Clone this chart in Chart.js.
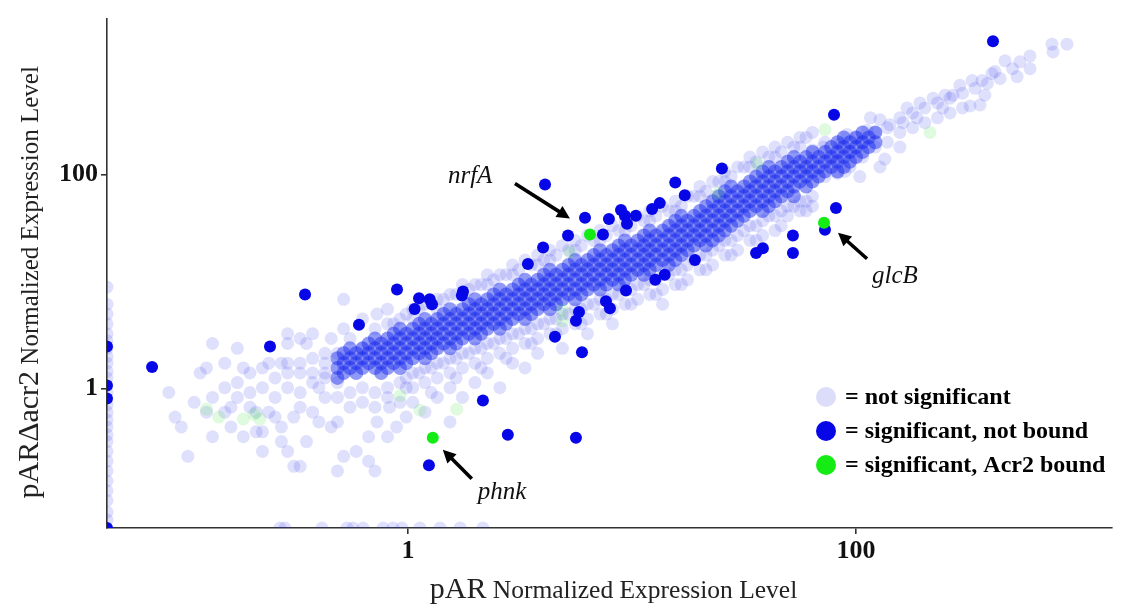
<!DOCTYPE html>
<html><head><meta charset="utf-8">
<script src="https://cdn.jsdelivr.net/npm/chart.js@4.4.1/dist/chart.umd.min.js"></script>
<style>html,body{margin:0;padding:0;background:#fff;}canvas{display:block;}</style>
</head><body>
<canvas id="c" width="1135" height="614"></canvas>
<script>
// ---------- axis ranges & ticks ----------
const X_MIN = 0.0453, X_MAX = 1390;
const Y_MIN = 0.0498, Y_MAX = 2876;
const xTickValues = [1, 100];
const yTickValues = [1, 100];
const xTitleParts = ['pAR', ' Normalized Expression Level'];
const yTitleParts = ['pARΔacr2', ' Normalized Expression Level'];
const legendLabels = ['= not significant', '= significant, not bound', '= significant, Acr2 bound'];

// ---------- significant, Acr2 bound ----------
const boundGenes = ['nrfA', 'glcB', 'phnk'];
const boundX = [6.49, 72.0, 1.29];
const boundY = [27.6, 35.5, 0.348];

// ---------- significant, not bound ----------
const sigPoints = [
 [409,1770],[79.8,363],[81.4,48.8],[72.7,30.6],[52.3,27.0],[52.3,18.5],[35.8,18.5],[38.4,20.5],
 [19.1,15.9],[12.7,10.4],[14.0,11.6],[12.3,47.7],[13.3,54.2],[17.2,64.2],[15.6,84.5],[25.2,114],
 [4.09,81.0],[6.17,39.5],[5.18,27.0],[7.42,27.6],[7.89,38.6],[8.93,46.7],[9.30,41.2],[9.50,34.8],
 [10.4,41.2],[4.01,20.9],[3.43,14.6],[9.40,8.27],[7.65,6.56],[7.97,5.65],[5.80,5.19],[5.62,4.30],
 [4.53,3.06],[5.98,2.19],[2.16,0.776],[2.79,0.371],[5.62,0.348],[1.24,0.192],[0.893,8.45],[1.12,6.98],
 [1.07,5.54],[1.25,6.84],[1.28,6.15],[1.76,8.10],[1.74,7.44],[0.347,7.60],[0.604,3.95],[0.242,2.48],
 [0.0720,1.59],[0.0453,2.48],[0.0453,1.07],[0.0453,0.81],[0.0453,0.0498]
];

// ---------- not significant: dense core of the cloud (genes grouped by pAR level) ----------
const coreColX = [0.484,0.516,0.551,0.587,0.626,0.667,0.712,0.759,0.810,0.863,0.921,0.982,1.05,1.12,
 1.19,1.27,1.35,1.44,1.54,1.64,1.75,1.87,1.99,2.12,2.26,2.41,2.57,2.74,2.93,3.12,3.33,3.55,3.79,4.04,
 4.30,4.58,4.89,5.21,5.57,5.94,6.33,6.75,7.20,7.68,8.18,8.72,9.30,9.91,10.6,11.3,12.0,12.8,13.7,14.6,
 15.6,16.6,17.7,18.9,20.1,21.4,22.9,24.4,26.0,27.7,29.6,31.6,33.6,35.8,38.3,40.8,43.5,46.4,49.5,52.8,
 56.2,59.9,63.9,68.1,72.7,77.5,82.7,88.2,94.0,100,107,114,122];
const coreColY = [
 [1.92,1.56,1.26],[2.14,1.73,1.40],[2.38,1.92,1.56],[2.14,1.73,1.40],[2.38,1.92,1.56],[2.64,2.14,1.73],
 [2.94,2.38,1.92,1.56],[2.64,2.14,1.73,1.40],[2.94,2.38,1.92,1.56],[3.26,2.64,2.14,1.73],
 [3.63,2.94,2.38,1.92,1.56],[3.26,2.64,2.14,1.73],[3.63,2.94,2.38,1.92],[4.03,3.26,2.64,2.14],
 [4.48,3.63,2.94,2.38,1.92],[4.03,3.26,2.64,2.14],[4.48,3.63,2.94,2.38],[4.98,4.03,3.26,2.64],
 [5.53,4.48,3.63,2.94,2.38],[4.98,4.03,3.26,2.64],[5.53,4.48,3.63,2.94],[6.15,4.98,4.03,3.26],
 [6.84,5.53,4.48,3.63,2.94],[6.15,4.98,4.03,3.26],[6.84,5.53,4.48,3.63],[7.60,6.15,4.98,4.03],
 [8.45,6.84,5.53,4.48,3.63],[7.60,6.15,4.98,4.03],[8.45,6.84,5.53,4.48],[9.38,7.60,6.15,4.98],
 [10.4,8.45,6.84,5.53,4.48],[9.38,7.60,6.15,4.98],[10.4,8.45,6.84,5.53],[11.6,9.38,7.60,6.15],
 [12.9,10.4,8.45,6.84,5.53],[11.6,9.38,7.60,6.15],[12.9,10.4,8.45,6.84],[14.3,11.6,9.38,7.60],
 [15.9,12.9,10.4,8.45,6.84],[14.3,11.6,9.38,7.60],[15.9,12.9,10.4,8.45],[17.7,14.3,11.6,9.38],
 [19.7,15.9,12.9,10.4,8.45],[17.7,14.3,11.6,9.38],[19.7,15.9,12.9,10.4],[21.8,17.7,14.3,11.6,9.38],
 [24.3,19.7,15.9,12.9,10.4],[21.8,17.7,14.3,11.6],[24.3,19.7,15.9,12.9],[27.0,21.8,17.7,14.3,11.6],
 [30.0,24.3,19.7,15.9,12.9],[27.0,21.8,17.7,14.3],[30.0,24.3,19.7,15.9],[33.3,27.0,21.8,17.7,14.3],
 [37.1,30.0,24.3,19.7,15.9],[41.2,33.3,27.0,21.8,17.7],[37.1,30.0,24.3,19.7],[41.2,33.3,27.0,21.8],
 [45.8,37.1,30.0,24.3],[50.8,41.2,33.3,27.0,21.8],[56.5,45.8,37.1,30.0,24.3],[62.8,50.8,41.2,33.3,27.0],
 [69.8,56.5,45.8,37.1,30.0],[77.6,62.8,50.8,41.2,33.3],[69.8,56.5,45.8,37.1],[77.6,62.8,50.8,41.2],
 [86.3,69.8,56.5,45.8],[95.9,77.6,62.8,50.8],[107,86.3,69.8,56.5,45.8],[118,95.9,77.6,62.8,50.8],
 [107,86.3,69.8,56.5],[118,95.9,77.6,62.8],[132,107,86.3,69.8],[146,118,95.9,77.6,62.8],
 [132,107,86.3],[146,118,95.9,77.6],[163,132,107,86.3],[146,118,95.9],[163,132,107],[181,146,118],
 [201,163,132,107],[223,181,146,118],[201,163,132],[223,181,146],[248,201,163],[223,181],[248,201]
];

// ---------- not significant: spread around the core (genes grouped by pAR level) ----------
const fringeColX = [0.982,1.05,1.12,1.19,1.27,1.35,1.44,1.54,1.64,1.75,1.87,1.99,2.12,2.26,2.41,2.57,
 2.74,2.93,3.12,3.33,3.55,3.79,4.04,4.30,4.58,4.89,5.21,5.57,5.94,6.33,6.75,7.20,7.68,8.18,8.72,9.30,
 9.91,10.6,11.3,12.0,12.8,13.7,14.6,15.6,16.6,17.7,18.9,20.1,21.4,22.9,24.4,26.0,27.7,29.6,31.6,33.6,
 35.8,38.3,40.8,43.5,46.4,49.5,52.8,56.2,59.9,63.9];
const fringeColY = [
 [4.98,1.26,1.02],[5.53,4.48,1.40,1.02,0.744],[5.53,1.40],[6.15,1.56,1.14,0.602],[6.15,1.56,0.919],
 [6.84,5.53,1.73,1.26,0.827],[6.84,1.73],[7.60,1.92,1.40,1.02,0.488],[7.60,1.92,1.26],
 [9.38,7.60,2.14,1.56,0.827],[8.45,2.14],[9.38,2.38,1.73,1.14],[9.38,2.38,1.56],
 [11.6,9.38,2.64,1.92,1.40],[10.4,2.64],[11.6,2.94,2.14,1.02],[11.6,2.94,1.92],
 [14.3,11.6,3.26,2.38,1.73],[12.9,3.26],[15.9,3.63,2.64,1.56],[14.3,3.63,2.64],
 [17.7,14.3,4.03,2.94,2.14],[15.9,4.03],[19.7,15.9,4.48,3.26],[17.7,4.48,3.26],
 [21.8,4.98,3.63,2.38],[19.7,4.98],[24.3,19.7,5.53,4.03],[21.8,5.53,4.03],[27.0,6.15,4.48,3.26],
 [24.3,6.15],[30.0,24.3,6.84,4.98],[27.0,6.84,4.98],[33.3,7.60,5.53,4.03],[30.0,7.60],
 [37.1,30.0,8.45,6.15],[33.3,8.45,6.15],[41.2,9.38,6.84],[37.1,9.38],[45.8,37.1,10.4,7.60],
 [41.2,10.4,7.60],[50.8,11.6,8.45,6.15],[45.8,11.6],[56.5,45.8,12.9,9.38],[50.8,12.9,9.38],
 [62.8,14.3,10.4],[62.8,15.9],[77.6,62.8,17.7,12.9],[69.8,17.7,12.9],[86.3,19.7,14.3],[86.3,21.8],
 [107,86.3,24.3,17.7],[95.9,24.3,17.7],[118,27.0,19.7],[118,30.0],[146,118,33.3,24.3],
 [132,33.3,24.3],[163,37.1,27.0],[146,41.2],[181,146,41.2,30.0],[163,45.8,33.3],[201,50.8,41.2],
 [181,50.8],[223,181,56.5,45.8],[223,56.5,45.8],[248,62.8,50.8]
];

// ---------- not significant: low-expression scatter ----------
const nsLowPoints = [
 [0.0855,0.92],[0.0912,0.542],[0.0972,0.439],[0.104,0.233],[0.111,0.744],[0.118,1.40],[0.126,1.56],
 [0.134,2.64],[0.134,0.827],[0.126,0.602],[0.134,0.355],[0.152,1.73],[0.152,1.02],[0.162,0.439],
 [0.162,0.670],[0.173,2.38],[0.173,1.14],[0.184,1.56],[0.184,0.355],[0.197,0.670],[0.197,1.40],
 [0.210,0.395],[0.210,0.602],[0.224,1.56],[0.224,0.259],[0.224,0.395],[0.239,1.73],[0.239,0.602],
 [0.255,1.26],[0.255,0.542],[0.272,1.73],[0.272,0.439],[0.272,0.320],[0.290,1.02],[0.290,3.26],
 [0.290,2.64],[0.290,0.259],[0.309,0.188],[0.309,0.542],[0.330,2.94],[0.330,0.919],[0.330,0.670],
 [0.330,0.188],[0.352,0.320],[0.352,2.64],[0.375,1.14],[0.375,0.602],[0.375,3.26],[0.400,1.02],
 [0.400,0.488],[0.426,2.14],[0.426,1.40],[0.454,2.94],[0.454,0.439],[0.484,0.170],[0.484,0.488],
 [0.516,3.63],[0.516,6.84],[0.516,0.233],[0.587,0.259],[0.626,4.48],[0.667,0.210],[0.667,0.355],
 [0.712,0.170],[0.727,0.488],[0.727,4.98],[0.810,0.355],[0.810,5.53],[0.827,0.670],[0.863,4.03],
 [0.889,0.439],[0.982,0.542],[0.330,1.73],[0.330,1.40],[0.375,1.92],[0.375,1.40],[0.426,1.73],
 [0.426,1.26],[0.426,0.827],[0.484,2.14],[0.484,1.14],[0.484,0.827],[0.551,2.94],[0.551,0.919],
 [0.551,0.670],[0.626,2.38],[0.626,1.02],[0.626,0.744],[0.712,3.63],[0.712,0.919],[0.712,0.670],
 [0.810,4.03],[0.810,1.02],[0.810,0.827],[0.921,4.48],[0.921,1.14],[0.921,0.744],[0.290,1.73],
 [0.290,1.40],[0.255,0.827],[0.224,1.02],[0.197,0.919],[0.173,0.827],[0.152,0.602]
];

// ---------- not significant: high-expression scatter ----------
const nsHighPoints = [
 [60.4,112],[63.9,170],[71.2,181],[76.6,138],[82.7,103],[84.9,193],[91.2,238],[101,223],[112,259],
 [116,340],[128,326],[134.5,140],[141.6,293],[162,306],[169,421],[187,340],[193,468],[221,519],
 [244,421],[271,553],[291,684],[330,759],[358,449],[365,759],[376,553],[404,881],[417,919],
 [463,1160],[500,979],[524,826],[539,1135],[598,1288],[598,979],[750,1660],[758,1401],[875,1660],
 [323,439],[250,553],[94.0,163],[94.0,118],[107,201],[107,146],[122,248],[122,181],[138,275],
 [138,201],[157,340],[157,248],[157,181],[179,378],[179,275],[203,421],[203,306],[231,468],
 [231,340],[263,519],[263,378],[299,577],[299,421],[340,641],[386,713],[440,792],[82.7,146],
 [89.3,107],[104,95.9],[128,118],[72.7,201],[72.7,95.9]
];

// ---------- not significant, level below axis range (sit on the axes) ----------
const nsOnYAxisY = [8.9,6.15,4.98,4.03,3.26,2.8,2.38,2.0,1.73,1.45,1.26,0.919,0.71,0.602,0.51,0.439,
 0.37,0.32,0.259,0.21,0.17,0.137,0.111,0.09,0.07,0.059];
const nsOnXAxisX = [0.268,0.282,0.413,0.534,0.568,0.63,0.774,0.857,0.94,1.13,1.39,1.71,2.16];

// ---------- Acr2 bound, not significant (faint) ----------
const nsBoundPoints = [
 [0.126,0.642],[0.143,0.542],[0.184,0.52],[0.205,0.577],[0.218,0.52],[0.921,0.862],[1.13,0.628],
 [1.65,0.642],[5.29,18.9],[4.89,5.42],[24.2,66.9],[36.2,127],[72.7,264],[214,248],[4.89,4.3]
];

// ---------- build datasets ----------
const pairs = a => a.map(p => ({x: p[0], y: p[1]}));
const fromCols = (xs, ys) => { const out = []; xs.forEach((x, i) => ys[i].forEach(y => out.push({x, y}))); return out; };
const nsData = pairs(nsLowPoints)
  .concat(fromCols(fringeColX, fringeColY))
  .concat(pairs(nsHighPoints))
  .concat(nsOnYAxisY.map(y => ({x: X_MIN, y})))
  .concat(nsOnXAxisX.map(x => ({x, y: Y_MIN})));

const C_SIG = '#0606E6', C_BOUND = '#14EC14';
const C_NS = 'rgba(40,50,232,0.15)', C_CORE = 'rgba(25,42,236,0.48)', C_NSB = 'rgba(60,225,60,0.16)';
const C_NS_LEGEND = '#DCDDF8';
const SERIF = '"Liberation Serif", "Times New Roman", serif';

const base = {borderWidth: 0, pointBorderWidth: 0, pointHoverRadius: 6.5, pointStyle: 'circle'};
const datasets = [
  Object.assign({label: 'significant, Acr2 bound', data: boundX.map((x, i) => ({x, y: boundY[i]})), backgroundColor: C_BOUND, pointRadius: 6, order: 0}, base),
  Object.assign({label: 'significant, not bound', data: pairs(sigPoints), backgroundColor: C_SIG, pointRadius: 6, order: 1}, base),
  Object.assign({label: 'bound, not significant', data: pairs(nsBoundPoints), backgroundColor: C_NSB, pointRadius: 6.5, order: 2}, base),
  Object.assign({label: 'not significant (core)', data: fromCols(coreColX, coreColY), backgroundColor: C_CORE, pointRadius: 7, order: 3}, base),
  Object.assign({label: 'not significant', data: nsData, backgroundColor: C_NS, pointRadius: 6.5, order: 4}, base)
];

function arrow(ctx, x1, y1, x2, y2) {
  const a = Math.atan2(y2 - y1, x2 - x1), hl = 13, hw = 6.5;
  const c = Math.cos(a), s = Math.sin(a);
  ctx.save();
  ctx.strokeStyle = '#000'; ctx.fillStyle = '#000'; ctx.lineWidth = 3.6; ctx.lineCap = 'butt';
  ctx.beginPath(); ctx.moveTo(x1, y1); ctx.lineTo(x2 - hl * 0.8 * c, y2 - hl * 0.8 * s); ctx.stroke();
  ctx.beginPath(); ctx.moveTo(x2, y2);
  ctx.lineTo(x2 - hl * c + hw * s, y2 - hl * s - hw * c);
  ctx.lineTo(x2 - hl * c - hw * s, y2 - hl * s + hw * c);
  ctx.closePath(); ctx.fill();
  ctx.restore();
}

function mixedText(ctx, parts, sizes, cx, baseline) {
  const fonts = sizes.map(s => s + 'px ' + SERIF);
  const widths = parts.map((p, i) => { ctx.font = fonts[i]; return ctx.measureText(p).width; });
  let x = cx - widths.reduce((a, b) => a + b, 0) / 2;
  parts.forEach((p, i) => { ctx.font = fonts[i]; ctx.fillText(p, x, baseline); x += widths[i]; });
}

const decor = {
  id: 'decor',
  afterDraw(chart) {
    const ctx = chart.ctx, ca = chart.chartArea, xs = chart.scales.x, ys = chart.scales.y;
    ctx.save();
    ctx.fillStyle = '#222'; ctx.textAlign = 'left'; ctx.textBaseline = 'alphabetic';
    // x title
    mixedText(ctx, xTitleParts, [30, 25.5], (ca.left + ca.right) / 2 + 4, ca.bottom + 70);
    // y title
    ctx.save();
    ctx.translate(38, (ca.top + ca.bottom) / 2 + 9);
    ctx.rotate(-Math.PI / 2);
    mixedText(ctx, yTitleParts, [30, 25], 0, 0);
    ctx.restore();

    // legend
    const lx = ca.right - 286, ly = ca.bottom - 131;
    const lc = [C_NS_LEGEND, C_SIG, C_BOUND];
    ctx.font = 'bold 24px ' + SERIF; ctx.textBaseline = 'middle';
    legendLabels.forEach((t, i) => {
      const y = ly + i * 34;
      ctx.beginPath(); ctx.arc(lx, y, 10, 0, Math.PI * 2); ctx.fillStyle = lc[i]; ctx.fill();
      ctx.fillStyle = '#000'; ctx.fillText(t, lx + 19, y + 1);
    });

    // gene annotations anchored on their points
    const ann = {
      nrfA: {head: [-20, -16], tail: [-75, -51], text: [-142, -51]},
      glcB: {head: [14, 10], tail: [43, 36], text: [48, 60]},
      phnk: {head: [10, 12], tail: [39, 41], text: [45, 61]}
    };
    ctx.font = 'italic 25px ' + SERIF; ctx.textBaseline = 'alphabetic'; ctx.fillStyle = '#111';
    boundGenes.forEach((g, i) => {
      const px = xs.getPixelForValue(boundX[i]), py = ys.getPixelForValue(boundY[i]);
      const a = ann[g];
      arrow(ctx, px + a.tail[0], py + a.tail[1], px + a.head[0], py + a.head[1]);
      ctx.fillText(g, px + a.text[0], py + a.text[1]);
    });
    ctx.restore();
  }
};

const axisCommon = {
  type: 'logarithmic',
  grid: {display: true, drawOnChartArea: false, drawTicks: true, tickLength: 6, color: '#333', lineWidth: 1.6},
  border: {display: true, color: '#333', width: 1.6},
  title: {display: false}
};

new Chart(document.getElementById('c').getContext('2d'), {
  type: 'scatter',
  data: {datasets},
  options: {
    responsive: false, animation: false, devicePixelRatio: 1,
    layout: {padding: {left: 0, right: 23, top: 9, bottom: 0}},
    plugins: {legend: {display: false}, tooltip: {enabled: false}},
    events: [],
    scales: {
      x: Object.assign({}, axisCommon, {
        min: X_MIN, max: X_MAX,
        afterBuildTicks: s => { s.ticks = xTickValues.map(v => ({value: v})); },
        afterFit: s => { s.height = 86; },
        ticks: {autoSkip: false, maxRotation: 0, padding: 2, color: '#111',
          font: {family: SERIF, size: 26, weight: 'bold'}, callback: v => String(v)}
      }),
      y: Object.assign({}, axisCommon, {
        min: Y_MIN, max: Y_MAX,
        afterBuildTicks: s => { s.ticks = yTickValues.map(v => ({value: v})); },
        afterFit: s => { s.width = 107; },
        ticks: {autoSkip: false, padding: 3, color: '#111',
          font: {family: SERIF, size: 26, weight: 'bold'}, callback: v => String(v)}
      })
    }
  },
  plugins: [decor]
});
</script>
</body></html>
